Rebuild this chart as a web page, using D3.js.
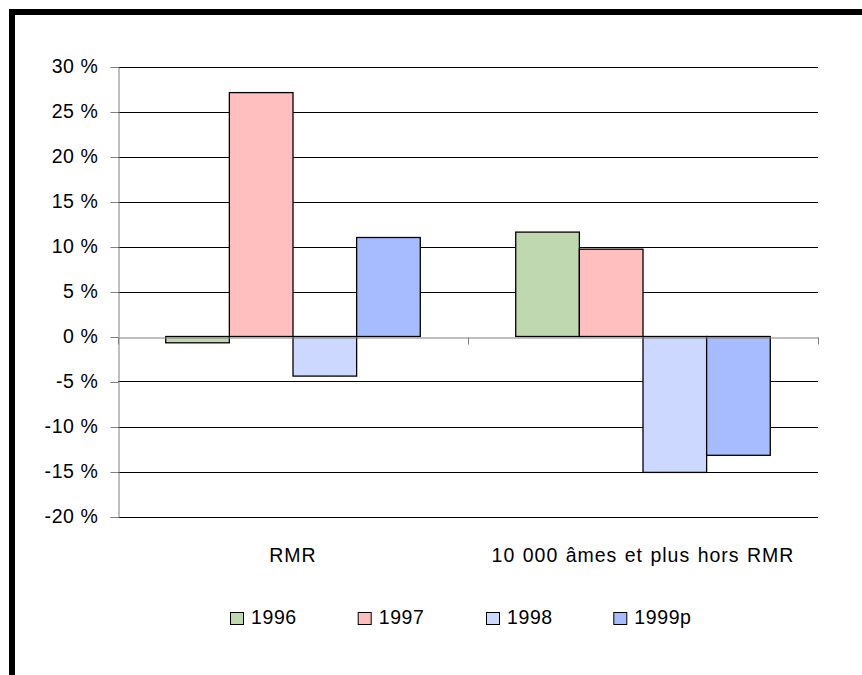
<!DOCTYPE html>
<html>
<head>
<meta charset="utf-8">
<script src="https://cdn.jsdelivr.net/npm/d3@7"></script>
<style>
  html, body { margin: 0; padding: 0; background: #fff; overflow: hidden; }
  svg { display: block; }
  text { font-family: "Liberation Sans", Arial, sans-serif; fill: #000; }
</style>
</head>
<body>
<svg id="chart" width="862" height="675"></svg>
<script>
// Categories, series and value ticks
const categories = ["RMR", "10 000 âmes et plus hors RMR"];
const seriesNames = ["1996", "1997", "1998", "1999p"];
const values1996 = [-0.7, 11.6];
const values1997 = [27.1, 9.7];
const values1998 = [-4.4, -15.1];
const values1999p = [11.0, -13.2];
const seriesColors = ["#c0d8b0", "#ffbfbf", "#ccd8ff", "#a6bcff"];
const yTicks = [-20, -15, -10, -5, 0, 5, 10, 15, 20, 25, 30];

const seriesValues = [values1996, values1997, values1998, values1999p];

const svg = d3.select("#chart");
const plot = { left: 118, right: 818, top: 66.5, bottom: 516.5 };
const fontSize = "19.5px";

// Frame around the chart (top and left edges visible)
svg.append("rect")
  .attr("x", 12).attr("y", 12)
  .attr("width", 900).attr("height", 700)
  .attr("fill", "none").attr("stroke", "#000").attr("stroke-width", 6);

const y = d3.scaleLinear().domain([-20, 30]).range([plot.bottom, plot.top]);
const x0 = d3.scaleBand().domain(categories).range([plot.left, plot.right]).paddingInner(0).paddingOuter(0);
const x1 = d3.scaleBand().domain(seriesNames).range([0, x0.bandwidth()]).paddingInner(0).paddingOuter(0.75);

// Horizontal gridlines
svg.append("g")
  .selectAll("line")
  .data(yTicks.filter(d => d !== 0))
  .join("line")
  .attr("x1", plot.left).attr("x2", plot.right)
  .attr("y1", d => Math.round(y(d)) + 0.5).attr("y2", d => Math.round(y(d)) + 0.5)
  .attr("stroke", "#000").attr("stroke-width", 1);

// Value axis
const yAxis = d3.axisLeft(y).tickValues(yTicks).tickSize(8).tickPadding(12).tickFormat(d => `${d} %`);
const gy = svg.append("g")
  .attr("transform", `translate(${plot.left + 0.5},0.5)`)
  .call(yAxis);
gy.select(".domain").attr("stroke", "#808080");
gy.selectAll(".tick line").attr("stroke", "#808080");
gy.selectAll(".tick text")
  .style("font-family", "'Liberation Sans', Arial, sans-serif")
  .style("font-size", fontSize)
  .style("letter-spacing", "0.6px")
  .attr("dy", "0.28em")
  .attr("fill", "#000");

// Bars
const groups = svg.append("g")
  .selectAll("g")
  .data(categories)
  .join("g")
  .attr("transform", d => `translate(${x0(d)},0)`);

groups.selectAll("rect")
  .data((c, ci) => seriesNames.map((s, si) => ({ s, si, v: seriesValues[si][ci] })))
  .join("rect")
  .attr("x", d => x1(d.s))
  .attr("width", x1.bandwidth())
  .attr("y", d => y(Math.max(0, d.v)))
  .attr("height", d => Math.abs(y(d.v) - y(0)))
  .attr("fill", d => seriesColors[d.si])
  .attr("stroke", "#000").attr("stroke-width", 1.3);

// Category axis along zero
const xAxis = d3.axisBottom(x0).tickSize(0).tickFormat("");
const gx = svg.append("g")
  .attr("transform", `translate(0.5,${Math.round(y(0)) + 0.5})`)
  .call(xAxis);
gx.select(".domain").attr("stroke", "#808080");
gx.selectAll(".tick").remove();
gx.selectAll(".boundary")
  .data([plot.left, plot.left + x0.bandwidth(), plot.right])
  .join("line")
  .attr("class", "boundary")
  .attr("x1", d => d).attr("x2", d => d)
  .attr("y1", 0).attr("y2", 7)
  .attr("stroke", "#808080");
// Bar outlines sit above the zero line
groups.raise();

// Category labels
svg.append("g")
  .selectAll("text")
  .data(categories)
  .join("text")
  .attr("x", d => x0(d) + x0.bandwidth() / 2)
  .attr("y", 562)
  .attr("text-anchor", "middle")
  .style("font-size", fontSize)
  .style("letter-spacing", "1px")
  .style("word-spacing", "1px")
  .text(d => d);

// Legend
const legendX = [230, 357.7, 486, 613.3];
const legend = svg.append("g")
  .selectAll("g")
  .data(seriesNames)
  .join("g")
  .attr("transform", (d, i) => `translate(${legendX[i]},0)`);
legend.append("rect")
  .attr("x", 0.5).attr("y", 612.5)
  .attr("width", 13).attr("height", 12)
  .attr("fill", (d, i) => seriesColors[i])
  .attr("stroke", "#000").attr("stroke-width", 1);
legend.append("text")
  .attr("x", 21).attr("y", 623.5)
  .style("font-size", fontSize)
  .style("letter-spacing", "0.6px")
  .text(d => d);
</script>
</body>
</html>
